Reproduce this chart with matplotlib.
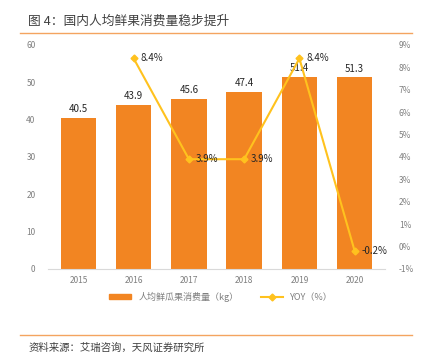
import numpy as np
import matplotlib
matplotlib.use("Agg")
import matplotlib.pyplot as plt
from matplotlib.lines import Line2D
from matplotlib.patches import Patch

plt.rcParams["font.family"] = ["Noto Sans CJK SC", "DejaVu Sans"]

years = ["2015", "2016", "2017", "2018", "2019", "2020"]
consumption = [40.5, 43.9, 45.6, 47.4, 51.4, 51.3]  # kg
yoy = [None, 8.4, 3.9, 3.9, 8.4, -0.2]  # %

BAR_COLOR = "#F28522"
LINE_COLOR = "#FFC21E"
GREY = "#7F7F7F"
RULE = "#F4A460"

fig = plt.figure(figsize=(4.25, 3.6), dpi=100)
ax = fig.add_axes([0.113, 0.253, 0.793, 0.622])
ax2 = ax.twinx()

x = np.arange(len(years))
ax.bar(x, consumption, width=0.64, color=BAR_COLOR, zorder=2)
for xi, v in zip(x, consumption):
    ax.text(xi, v + 1.0, f"{v}", ha="center", va="bottom", fontsize=7, color="#262626")

ax.set_ylim(0, 60)
ax.set_yticks(range(0, 61, 10))
ax.set_xlim(-0.55, len(years) - 0.45)
ax.set_xticks(x)
ax.set_xticklabels(years)

yx = [xi for xi, v in zip(x, yoy) if v is not None]
yv = [v for v in yoy if v is not None]
ax2.plot(yx, yv, color=LINE_COLOR, lw=1.5, marker="D", ms=3.5, zorder=3)
for xi, v in zip(yx, yv):
    ax2.text(xi + 0.12, v, f"{v}%", ha="left", va="center", fontsize=7, color="#262626")
ax2.set_ylim(-1, 9)
ax2.set_yticks(range(-1, 10))
ax2.set_yticklabels([f"{t}%" for t in range(-1, 10)])

for a in (ax, ax2):
    for s in a.spines.values():
        s.set_visible(False)
    a.tick_params(length=0, labelsize=6, labelcolor=GREY)
ax.spines["bottom"].set_visible(True)
ax.spines["bottom"].set_color("#D9D9D9")
ax.tick_params(axis="x", pad=5)
ax.tick_params(axis="y", pad=9)
ax2.tick_params(axis="y", pad=10)

handles = [
    Patch(color=BAR_COLOR, label="人均鲜瓜果消费量（kg）"),
    Line2D([0], [0], color=LINE_COLOR, lw=1.5, marker="D", ms=3.5, label="YOY（%）"),
]
fig.legend(handles=handles, loc="center", bbox_to_anchor=(0.52, 0.175), ncol=2,
           frameon=False, fontsize=6.5, labelcolor=GREY, handlelength=2.4,
           handleheight=0.5, columnspacing=2.5)

fig.text(0.066, 0.94, "图 4：国内人均鲜果消费量稳步提升", fontsize=9.2, color="#404040", va="center")
fig.add_artist(Line2D([0.047, 0.97], [0.908, 0.908], color=RULE, lw=1))
fig.add_artist(Line2D([0.047, 0.97], [0.07, 0.07], color=RULE, lw=1))
fig.text(0.066, 0.033, "资料来源：艾瑞咨询，天风证券研究所", fontsize=7.5, color="#404040", va="center")

fig.savefig("out.png", dpi=100)
